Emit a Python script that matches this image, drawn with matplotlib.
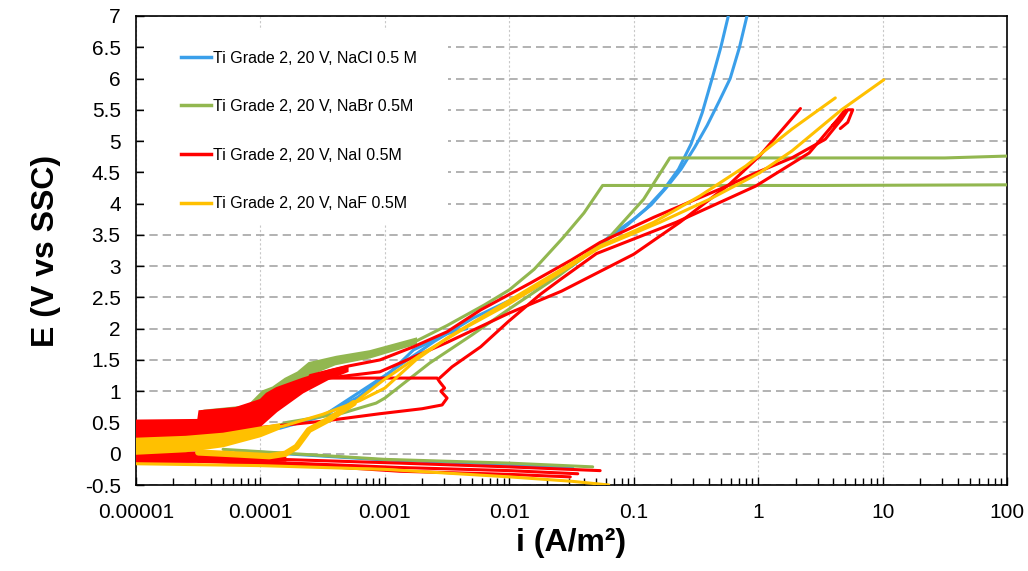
import numpy as np
import matplotlib.pyplot as plt
from matplotlib.lines import Line2D
from matplotlib.patches import Rectangle
from matplotlib.ticker import FixedLocator, FixedFormatter, LogLocator, NullFormatter

# axis ticks / labels
x_ticks = [1e-5, 1e-4, 1e-3, 1e-2, 1e-1, 1, 10, 100]
x_labels = ['0.00001', '0.0001', '0.001', '0.01', '0.1', '1', '10', '100']
y_ticks = [-0.5, 0, 0.5, 1, 1.5, 2, 2.5, 3, 3.5, 4, 4.5, 5, 5.5, 6, 6.5, 7]
y_labels = ['-0.5', '0', '0.5', '1', '1.5', '2', '2.5', '3', '3.5', '4', '4.5', '5', '5.5', '6', '6.5', '7']

series_labels = ['Ti Grade 2, 20 V, NaCl 0.5 M', 'Ti Grade 2, 20 V, NaBr 0.5M',
                 'Ti Grade 2, 20 V, NaI 0.5M', 'Ti Grade 2, 20 V, NaF 0.5M']
series_colors = ['#3A9FEA', '#92B750', '#FF0000', '#FFC000']

# ---- curves: log10(i [A/m2]) and E (V vs SSC) ----
# NaCl (blue)
nacl_low_logi = [-4.1, -3.84, -3.5, -3.22, -3.0, -2.77, -2.5, -2.34]
nacl_low_e = [0.35, 0.41, 0.6, 0.9, 1.22, 1.66, 1.92, 2.0]
nacl_a_logi = [-3.5, -3.0, -2.6, -2.29, -1.81, -1.5, -1.24, -1.05, -0.9, -0.76, -0.64, -0.54, -0.45, -0.37, -0.3, -0.24]
nacl_a_e = [0.6, 1.25, 1.8, 2.17, 2.63, 3.0, 3.38, 3.66, 3.92, 4.22, 4.55, 4.95, 5.45, 6.0, 6.5, 7.0]
nacl_b_logi = [-1.5, -1.19, -1.0, -0.86, -0.74, -0.62, -0.51, -0.41, -0.31, -0.225, -0.15, -0.09]
nacl_b_e = [3.0, 3.48, 3.75, 3.98, 4.25, 4.55, 4.9, 5.25, 5.65, 6.0, 6.5, 7.0]
nacl_cat_logi = [-4.2, -3.0, -2.0, -1.49]
nacl_cat_e = [0.05, -0.1, -0.17, -0.23]

# NaBr (green)
nabr_band_top_logi = [-4.45, -4.1, -3.98, -3.9, -3.8, -3.7, -3.61, -3.5, -3.39, -3.12, -2.75]
nabr_band_top_e = [0.69, 0.76, 1.0, 1.06, 1.2, 1.3, 1.45, 1.5, 1.55, 1.64, 1.84]
nabr_band_bot_logi = [-4.45, -4.2, -3.98, -3.8, -3.61, -3.4, -3.12, -2.75]
nabr_band_bot_e = [0.62, 0.64, 0.82, 1.04, 1.26, 1.43, 1.54, 1.76]
nabr_a_logi = [-2.75, -2.5, -2.2, -2.0, -1.8, -1.57, -1.4, -1.25, 0.5, 2.0]
nabr_a_e = [1.8, 2.05, 2.38, 2.62, 2.95, 3.45, 3.85, 4.29, 4.29, 4.3]
nabr_b_logi = [-4.0, -3.79, -3.34, -3.07, -3.0, -2.64, -2.3, -1.99, -1.6, -1.21, -0.92, -0.71, 1.5, 2.0]
nabr_b_e = [0.33, 0.5, 0.65, 0.81, 0.89, 1.45, 1.9, 2.33, 2.85, 3.43, 4.07, 4.73, 4.73, 4.76]
nabr_cat_logi = [-4.3, -3.0, -2.0, -1.33]
nabr_cat_e = [0.07, -0.09, -0.15, -0.21]

# NaI (red)
nai_band_top_logi = [-5.0, -4.5, -4.49, -4.2, -4.0, -3.95, -3.87, -3.66, -3.45, -3.3]
nai_band_top_e = [0.53, 0.54, 0.68, 0.73, 0.86, 0.96, 1.05, 1.2, 1.33, 1.4]
nai_band_bot_logi = [-5.0, -4.5, -4.2, -4.0, -3.87, -3.66, -3.45, -3.3]
nai_band_bot_e = [0.12, 0.18, 0.28, 0.45, 0.68, 0.98, 1.2, 1.32]
nai_band2_top_logi = [-5.0, -4.5, -4.0, -3.8]
nai_band2_top_e = [0.03, 0.02, -0.02, -0.06]
nai_band2_bot_logi = [-5.0, -4.5, -4.0, -3.8]
nai_band2_bot_e = [-0.13, -0.13, -0.12, -0.11]
nai_up_logi = [-3.6, -3.3, -3.04, -2.77, -2.5, -2.23, -1.83, -1.5, -1.27, -0.84, -0.31, -0.02, 0.27, 0.54, 0.67, 0.72, 0.76, 0.72, 0.66]
nai_up_e = [1.25, 1.4, 1.5, 1.71, 1.95, 2.3, 2.73, 3.1, 3.38, 3.78, 4.23, 4.49, 4.73, 5.03, 5.35, 5.5, 5.5, 5.3, 5.2]
nai_mid_logi = [-2.56, -2.46, -2.23, -2.01, -1.75, -1.58, -1.3, -0.66, -0.02, 0.41, 0.64, 0.70, 0.68, 0.6]
nai_mid_e = [1.21, 1.39, 1.71, 2.11, 2.55, 2.8, 3.2, 3.70, 4.28, 4.81, 5.35, 5.5, 5.4, 5.25]
nai_steep_logi = [-3.5, -3.04, -2.5, -2.0, -1.58, -1.0, -0.63, -0.23, 0.01, 0.34]
nai_steep_e = [1.2, 1.31, 1.78, 2.25, 2.6, 3.19, 3.70, 4.31, 4.76, 5.52]
nai_loop_logi = [-3.6, -2.58, -2.56, -2.52, -2.55, -2.5, -2.54, -2.7, -3.04, -3.5, -4.0]
nai_loop_e = [1.21, 1.21, 1.15, 1.05, 1.0, 0.89, 0.78, 0.72, 0.64, 0.52, 0.42]
nai_cat1_logi = [-5.0, -4.0, -2.88, -2.0, -1.27]
nai_cat1_e = [-0.03, -0.08, -0.15, -0.21, -0.27]
nai_cat2_logi = [-5.0, -4.0, -2.88, -2.0, -1.45]
nai_cat2_e = [-0.08, -0.13, -0.22, -0.27, -0.32]
nai_cat3_logi = [-4.5, -3.5, -2.88, -2.0, -1.51]
nai_cat3_e = [-0.12, -0.2, -0.28, -0.33, -0.37]

# NaF (yellow)
naf_band_top_logi = [-5.0, -4.6, -4.3, -4.0, -3.85]
naf_band_top_e = [0.24, 0.27, 0.32, 0.42, 0.47]
naf_band_bot_logi = [-5.0, -4.6, -4.3, -4.0, -3.85]
naf_band_bot_e = [0.0, 0.04, 0.12, 0.28, 0.4]
naf_rise_logi = [-4.5, -4.2, -3.93, -3.8, -3.71, -3.61, -3.44, -3.25, -3.01, -2.7, -2.34, -2.0, -1.69, -1.27, -0.79, -0.39, 0.01, 0.27, 0.67, 1.01]
naf_rise_e = [0.02, -0.01, -0.04, 0.0, 0.11, 0.38, 0.56, 0.81, 1.18, 1.6, 2.03, 2.4, 2.78, 3.3, 3.70, 4.07, 4.49, 4.84, 5.5, 5.98]
naf_up_logi = [-4.0, -3.82, -3.5, -3.2, -3.0, -2.75, -2.5, -2.0, -1.58, -1.27, -0.84, -0.47, -0.1, 0.27, 0.62]
naf_up_e = [0.4, 0.44, 0.63, 0.85, 1.05, 1.5, 1.85, 2.45, 2.95, 3.32, 3.70, 4.12, 4.6, 5.19, 5.69]
naf_cat_logi = [-5.0, -4.0, -3.0, -2.0, -1.5, -1.2]
naf_cat_e = [-0.16, -0.19, -0.25, -0.37, -0.44, -0.5]

plt.rcParams['font.family'] = ['Liberation Sans', 'DejaVu Sans']

fig = plt.figure(figsize=(10.28, 5.71), dpi=100)
ax = fig.add_axes([0.1323, 0.1506, 0.8473, 0.8214])


def curve(logi, e, color, lw=2.2, z=3):
    ax.plot(np.power(10.0, logi), e, color=color, lw=lw, zorder=z,
            solid_capstyle='round', solid_joinstyle='round')


def band(top_logi, top_e, bot_logi, bot_e, color, z=3):
    xs = np.concatenate([np.power(10.0, top_logi), np.power(10.0, bot_logi[::-1])])
    ys = np.concatenate([top_e, bot_e[::-1]])
    ax.fill(xs, ys, color=color, lw=1.5, edgecolor=color, zorder=z)


blue, green, red, yellow = series_colors

# NaCl
curve(nacl_low_logi, nacl_low_e, blue)
curve(nacl_a_logi, nacl_a_e, blue)
curve(nacl_b_logi, nacl_b_e, blue)
curve(nacl_cat_logi, nacl_cat_e, blue)

# NaBr
band(nabr_band_top_logi, nabr_band_top_e, nabr_band_bot_logi, nabr_band_bot_e, green)
curve(nabr_a_logi, nabr_a_e, green)
curve(nabr_b_logi, nabr_b_e, green)
curve(nabr_cat_logi, nabr_cat_e, green)

# NaI
band(nai_band_top_logi, nai_band_top_e, nai_band_bot_logi, nai_band_bot_e, red)
band(nai_band2_top_logi, nai_band2_top_e, nai_band2_bot_logi, nai_band2_bot_e, red)
curve(nai_up_logi, nai_up_e, red)
curve(nai_mid_logi, nai_mid_e, red)
curve(nai_steep_logi, nai_steep_e, red)
curve(nai_loop_logi, nai_loop_e, red)
curve(nai_cat1_logi, nai_cat1_e, red)
curve(nai_cat2_logi, nai_cat2_e, red)
curve(nai_cat3_logi, nai_cat3_e, red)

# NaF
band(naf_band_top_logi, naf_band_top_e, naf_band_bot_logi, naf_band_bot_e, yellow)
curve(naf_rise_logi[:8], naf_rise_e[:8], yellow, lw=4.5)
curve(naf_rise_logi, naf_rise_e, yellow)
curve(naf_up_logi, naf_up_e, yellow)
curve(naf_cat_logi, naf_cat_e, yellow)

# axes
ax.set_xscale('log')
ax.set_xlim(1e-5, 100)
ax.set_ylim(-0.5, 7)
ax.xaxis.set_major_locator(FixedLocator(x_ticks))
ax.xaxis.set_major_formatter(FixedFormatter(x_labels))
ax.xaxis.set_minor_locator(LogLocator(base=10, subs=np.arange(2, 10), numticks=20))
ax.xaxis.set_minor_formatter(NullFormatter())
ax.yaxis.set_major_locator(FixedLocator(y_ticks))
ax.yaxis.set_major_formatter(FixedFormatter(y_labels))

ax.tick_params(axis='x', which='major', direction='in', length=6, width=1, pad=13, labelsize=15)
ax.tick_params(axis='x', which='minor', direction='in', length=5, width=1)
ax.tick_params(axis='y', direction='in', length=6, width=1, pad=11, labelsize=15)

ax.set_axisbelow(True)
ax.yaxis.grid(True, linestyle=(0, (5, 3)), color='#A6A6A6', lw=1.2)
ax.xaxis.grid(True, which='major', linestyle=(0, (2, 2)), color='#C8C8C8', lw=0.8)
for s in ax.spines.values():
    s.set_color('black')
    s.set_linewidth(1.2)

ax.set_xlabel('i (A/m²)', fontsize=23, fontweight='bold', labelpad=4)
ax.set_ylabel('E (V vs SSC)', fontsize=23, fontweight='bold', labelpad=17)

# white box behind the legend (hides grid there)
ax.add_patch(Rectangle((0.009, 0.555), 0.349, 0.415, transform=ax.transAxes,
                       facecolor='white', edgecolor='none', zorder=1))

handles = [Line2D([0], [0], color=c, lw=2.5) for c in series_colors]
ax.legend(handles, series_labels, loc='upper left', bbox_to_anchor=(0.044, 0.94),
          frameon=False, fontsize=11.5, handlelength=1.9, handletextpad=0.15,
          labelspacing=2.1, borderaxespad=0, borderpad=0.4)

fig.savefig('out.png', dpi=100)
